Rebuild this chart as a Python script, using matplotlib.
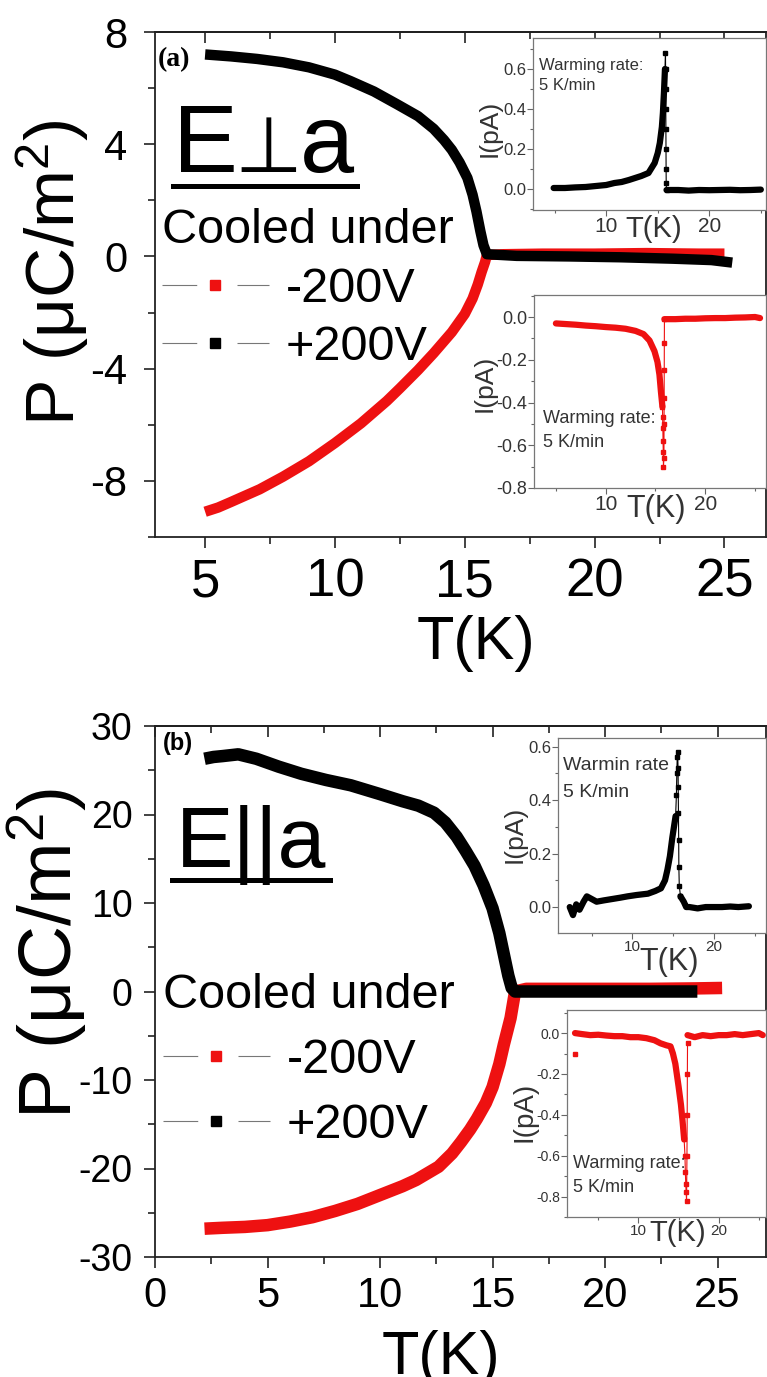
import matplotlib
matplotlib.use('Agg')
import matplotlib.pyplot as plt
from matplotlib.lines import Line2D
from matplotlib.ticker import MultipleLocator

plt.rcParams['font.family'] = ['Liberation Sans', 'DejaVu Sans']
plt.rcParams['mathtext.fontset'] = 'custom'
plt.rcParams['mathtext.rm'] = 'Liberation Sans'
plt.rcParams['mathtext.it'] = 'Liberation Sans:italic'
plt.rcParams['axes.unicode_minus'] = False
plt.rcParams['lines.scale_dashes'] = False

W, H = 767, 1377      # taille de la figure en pixels (dpi 100)
rouge = '#ee1111'
gris = '#333333'

### Données panneau (a) : E perp a  (P en uC/m2)
Ta_neg = [5.0, 5.5, 6.0, 7.1, 8.0, 9.0, 10.0, 11.0, 12.0, 12.5, 13.2, 13.8, 14.5, 15.0, 15.3, 15.5, 15.65, 15.78, 15.85, 16.5, 18, 20, 22, 24, 25.0]
Pa_neg = [-9.1, -8.95, -8.75, -8.3, -7.85, -7.3, -6.65, -5.95, -5.15, -4.7, -4.05, -3.45, -2.7, -2.05, -1.5, -1.0, -0.55, -0.2, 0.05, 0.08, 0.1, 0.1, 0.12, 0.1, 0.1]
Ta_pos = [5.0, 6.0, 7.0, 8.0, 9.0, 10.0, 10.6, 11.5, 12.4, 13.2, 13.8, 14.2, 14.5, 14.8, 15.1, 15.3, 15.45, 15.6, 15.72, 15.85, 17, 19, 21, 23, 24.5, 25.3]
Pa_pos = [7.2, 7.13, 7.04, 6.92, 6.74, 6.48, 6.25, 5.88, 5.42, 5.0, 4.55, 4.15, 3.8, 3.35, 2.8, 2.2, 1.6, 0.9, 0.4, 0.08, 0.02, 0.0, -0.03, -0.08, -0.13, -0.22]

### Données panneau (b) : E // a
Tb_pos = [2.2, 2.6, 3.0, 3.7, 4.5, 5.5, 6.5, 7.6, 8.7, 10.0, 11.0, 11.7, 12.4, 12.9, 13.4, 13.8, 14.2, 14.6, 15.0, 15.3, 15.5, 15.7, 15.85, 16.0, 18, 20, 22, 24.1]
Pb_pos = [26.3, 26.5, 26.6, 26.8, 26.3, 25.4, 24.6, 23.9, 23.3, 22.3, 21.5, 21.0, 20.2, 19.1, 17.5, 15.9, 14.2, 12.0, 9.4, 6.6, 4.2, 1.8, 0.4, 0.0, 0.0, 0.0, 0.0, 0.0]
Tb_neg = [2.2, 3.0, 4.0, 5.0, 6.0, 7.0, 8.0, 9.0, 10.0, 11.0, 11.6, 12.6, 13.2, 13.6, 14.0, 14.3, 14.7, 15.0, 15.3, 15.5, 15.7, 15.8, 15.9, 16.0, 16.5, 18, 20, 22, 24, 25.2]
Pb_neg = [-26.8, -26.7, -26.6, -26.4, -26.0, -25.5, -24.8, -24.0, -23.0, -22.0, -21.3, -19.8, -18.3, -17.0, -15.6, -14.4, -12.6, -10.8, -8.2, -6.0, -4.0, -3.0, -1.5, 0.0, 0.3, 0.3, 0.3, 0.3, 0.35, 0.4]

### Inserts (I en pA) : base continue, pic en pointillés, palier après Tc
# (a) haut, +200V
Ia1_T = [4.9, 6, 7, 8, 9, 10, 10.8, 11.5, 12.2, 12.8, 13.4, 14.1, 14.7, 15.0, 15.2, 15.4, 15.5, 15.6, 15.7]
Ia1_I = [0.005, 0.005, 0.008, 0.01, 0.015, 0.02, 0.03, 0.035, 0.045, 0.055, 0.065, 0.08, 0.13, 0.18, 0.23, 0.31, 0.38, 0.48, 0.6]
Ia1_Tpic = [15.7, 15.75, 15.76, 15.77, 15.78, 15.79, 15.8, 15.81, 15.82, 15.85]
Ia1_Ipic = [0.6, 0.68, 0.6, 0.5, 0.4, 0.3, 0.2, 0.1, 0.03, -0.005]
Ia1_Tfin = [15.85, 17, 18, 19, 20, 21, 22, 23, 24, 25]
Ia1_Ifin = [-0.005, -0.005, -0.008, -0.005, -0.006, -0.005, -0.004, -0.006, -0.005, -0.003]
# (a) bas, -200V
Ia2_T = [5.0, 6, 7, 8, 9, 10, 11, 12, 13, 13.8, 14.4, 14.9, 15.2, 15.4, 15.55, 15.7]
Ia2_I = [-0.03, -0.033, -0.036, -0.04, -0.043, -0.047, -0.05, -0.055, -0.065, -0.08, -0.11, -0.16, -0.21, -0.27, -0.35, -0.42]
Ia2_Tpic = [15.7, 15.72, 15.74, 15.76, 15.78, 15.8, 15.85, 15.86, 15.87, 15.88, 15.89, 15.9]
Ia2_Ipic = [-0.42, -0.47, -0.52, -0.58, -0.63, -0.70, -0.66, -0.5, -0.38, -0.25, -0.12, -0.01]
Ia2_Tfin = [15.9, 17, 18, 19, 20, 21, 22, 23, 24, 25, 25.5]
Ia2_Ifin = [-0.01, -0.01, -0.008, -0.008, -0.006, -0.005, -0.005, -0.003, -0.002, 0.0, -0.005]
# (b) haut, +200V
Ib1_T = [2.3, 2.7, 3.1, 3.5, 4.0, 4.4, 5.0, 5.6, 6.5, 7.5, 8.5, 9.4, 10.5, 11.9, 12.8, 13.5, 14.0, 14.3, 14.6, 14.9, 15.1, 15.3]
Ib1_I = [0.0, -0.03, 0.01, -0.01, 0.02, 0.04, 0.03, 0.02, 0.025, 0.03, 0.035, 0.04, 0.045, 0.05, 0.06, 0.07, 0.1, 0.14, 0.19, 0.26, 0.3, 0.34]
Ib1_Tpic = [15.3, 15.4, 15.45, 15.5, 15.55, 15.6, 15.62, 15.65, 15.68, 15.7, 15.75, 15.9]
Ib1_Ipic = [0.34, 0.42, 0.5, 0.56, 0.58, 0.52, 0.45, 0.35, 0.25, 0.15, 0.08, 0.04]
Ib1_Tfin = [15.9, 16.3, 16.6, 17, 18, 19, 20, 21, 22, 23, 24.3]
Ib1_Ifin = [0.04, 0.02, 0.0, 0.0, -0.005, 0.0, 0.0, 0.0, 0.002, 0.0, 0.003]
# (b) bas, -200V
Ib2_T = [2.1, 3, 4, 5, 6, 7, 8, 9, 10, 11, 12, 12.75, 13.5, 14.0, 14.3, 14.6, 15.0, 15.3, 15.5, 15.7]
Ib2_I = [0.0, -0.005, -0.01, -0.008, -0.012, -0.015, -0.015, -0.02, -0.02, -0.025, -0.035, -0.05, -0.06, -0.065, -0.1, -0.15, -0.26, -0.35, -0.43, -0.52]
Ib2_Tpic = [15.7, 15.8, 15.85, 15.9, 15.95, 16.0, 16.05, 16.08, 16.1, 16.12]
Ib2_Ipic = [-0.52, -0.6, -0.68, -0.74, -0.78, -0.82, -0.6, -0.4, -0.2, -0.05]
Ib2_Tfin = [16.12, 17, 18, 19, 20, 21, 22, 23, 24, 25, 25.5]
Ib2_Ifin = [-0.01, -0.02, -0.01, -0.015, -0.01, -0.01, -0.005, -0.01, -0.005, 0.0, -0.01]
Ib2_Taberr = [2.1]
Ib2_Iaberr = [-0.1]

legende = ['-200V', '+200V']


### Outils de placement (pixels -> fraction de figure)
def rect_px(x0, y0, x1, y1):
    return [x0/W, 1 - y1/H, (x1 - x0)/W, (y1 - y0)/H]

def pt_px(x, y):
    return x/W, 1 - y/H


fig = plt.figure(figsize=(W/100, H/100), dpi=100)


def axe_principal(rect, xlim, ylim, xmaj, ymaj, yfs, xfs, ypad, xpad):
    ax = fig.add_axes(rect)
    ax.set_xlim(*xlim)
    ax.set_ylim(*ylim)
    ax.xaxis.set_major_locator(MultipleLocator(xmaj))
    ax.xaxis.set_minor_locator(MultipleLocator(xmaj/2))
    ax.yaxis.set_major_locator(MultipleLocator(ymaj))
    ax.yaxis.set_minor_locator(MultipleLocator(ymaj/2))
    ax.tick_params(which='both', direction='out', width=1.2, color='#222222')
    ax.tick_params(which='major', length=8)
    ax.tick_params(which='minor', length=5)
    ax.tick_params(axis='y', labelsize=yfs, pad=ypad)
    ax.tick_params(axis='x', labelsize=xfs, pad=xpad)
    for s in ax.spines.values():
        s.set_linewidth(1.3)
        s.set_color('#222222')
    haut = ax.secondary_xaxis('top')
    haut.xaxis.set_major_locator(MultipleLocator(xmaj))
    haut.xaxis.set_minor_locator(MultipleLocator(xmaj/2))
    haut.tick_params(which='both', direction='in', labeltop=False, width=1.2, color='#222222')
    haut.tick_params(which='major', length=8)
    haut.tick_params(which='minor', length=5)
    haut.spines['top'].set_linewidth(1.3)
    return ax


def insert(rect, xlim, ylim, fs_y, fs_x):
    ai = fig.add_axes(rect)
    ai.set_facecolor('white')
    ai.set_xlim(*xlim)
    ai.set_ylim(*ylim)
    ai.xaxis.set_major_locator(MultipleLocator(10))
    ai.xaxis.set_minor_locator(MultipleLocator(5))
    ai.yaxis.set_major_locator(MultipleLocator(0.2))
    ai.yaxis.set_minor_locator(MultipleLocator(0.1))
    ai.yaxis.set_major_formatter(plt.FormatStrFormatter('%.1f'))
    ai.tick_params(which='both', direction='out', color='#666666', width=0.8, pad=1)
    ai.tick_params(which='major', length=4)
    ai.tick_params(which='minor', length=2.5)
    ai.tick_params(axis='y', labelsize=fs_y, labelcolor=gris)
    ai.tick_params(axis='x', labelsize=fs_x, labelcolor=gris)
    for s in ai.spines.values():
        s.set_linewidth(0.9)
        s.set_color('#777777')
    return ai


def trace_insert(ai, c, T, I, Tp, Ip, Tf, If):
    ai.plot(T, I, color=c, lw=4.5, solid_capstyle='round', solid_joinstyle='round')
    ai.plot(Tp, Ip, color=c, lw=0.8, marker='s', ms=2.8, mec=c, mfc=c, ls='-')
    ai.plot(Tf, If, color=c, lw=4.5, solid_capstyle='round', solid_joinstyle='round')


def poignees():
    # trait fin interrompu autour du carré, comme dans la légende d'origine
    return [Line2D([], [], color='#777777', lw=0.8, ls=(0, (25, 29, 26, 60)),
                   marker='s', ms=7, mfc=c, mec=c) for c in (rouge, 'black')]


### Panneau (a)
ax1 = axe_principal(rect_px(155, 32, 766, 537), (3.07, 26.6), (-10, 8), 5, 4, 30, 38, 12, 7)
ax1.plot(Ta_neg, Pa_neg, color=rouge, lw=7.5, solid_capstyle='butt', solid_joinstyle='round')
ax1.plot(Ta_pos, Pa_pos, color='black', lw=7.5, solid_capstyle='butt', solid_joinstyle='round')
ax1.set_ylabel('P (μC/m$^2$)', fontsize=50)
ax1.yaxis.set_label_coords(-0.104, 0.523)
ax1.set_xlabel('T(K)', fontsize=44)
ax1.xaxis.set_label_coords(0.525, -0.155)

ax1.legend(poignees(), legende, title='Cooled under', title_fontsize=35, fontsize=35, loc='upper left',
           bbox_to_anchor=(0.0115, 0.651), frameon=False, borderpad=0, borderaxespad=0,
           handlelength=2.2, handletextpad=0.35, labelspacing=0.28, alignment='left')

fig.text(*pt_px(158, 66), '(a)', fontsize=20, fontweight='bold', family='Liberation Serif', va='baseline')
fig.text(*pt_px(173, 172), 'E', fontsize=70, va='baseline')
fig.text(*pt_px(268, 172), '⊥', fontsize=56, va='baseline', ha='center', family='DejaVu Sans')
fig.text(*pt_px(300, 172), 'a', fontsize=70, va='baseline')
fig.add_artist(Line2D([173/W, 357/W], [1 - 185.5/H] * 2, color='black', lw=3.6))

### Panneau (b)
ax2 = axe_principal(rect_px(155, 726, 766, 1257), (0, 27.15), (-30, 30), 5, 10, 27, 30, 8, 6)
ax2.plot(Tb_neg, Pb_neg, color=rouge, lw=9, solid_capstyle='butt', solid_joinstyle='round')
ax2.plot(Tb_pos, Pb_pos, color='black', lw=9, solid_capstyle='butt', solid_joinstyle='round')
ax2.set_ylabel('P (μC/m$^2$)', fontsize=54)
ax2.yaxis.set_label_coords(-0.107, 0.572)
ax2.set_xlabel('T(K)', fontsize=44)
ax2.xaxis.set_label_coords(0.468, -0.137)

ax2.legend(poignees(), legende, title='Cooled under', title_fontsize=35, fontsize=35, loc='upper left',
           bbox_to_anchor=(0.013, 0.535), frameon=False, borderpad=0, borderaxespad=0,
           handlelength=2.2, handletextpad=0.35, labelspacing=0.41, alignment='left')

fig.text(*pt_px(163, 750), '(b)', fontsize=17, fontweight='bold', va='baseline')
fig.text(*pt_px(176, 867), 'E||a', fontsize=62, va='baseline')
fig.add_artist(Line2D([172/W, 330/W], [1 - 879.5/H] * 2, color='black', lw=3.6))

### Inserts panneau (a)
a1 = insert(rect_px(533, 38, 766, 210), (2.9, 25.5), (-0.105, 0.755), 12, 15)
trace_insert(a1, 'black', Ia1_T, Ia1_I, Ia1_Tpic, Ia1_Ipic, Ia1_Tfin, Ia1_Ifin)
a1.set_ylabel('I(pA)', fontsize=19, color=gris)
a1.yaxis.set_label_coords(-0.135, 0.477)
a1.set_xlabel('T(K)', fontsize=21, color=gris)
a1.xaxis.set_label_coords(0.519, -0.03)
fig.text(*pt_px(539, 70), 'Warming rate:', fontsize=12, color=gris, va='baseline')
fig.text(*pt_px(539, 90), '5 K/min', fontsize=12, color=gris, va='baseline')

a2 = insert(rect_px(534, 295, 766, 488), (2.8, 26.1), (-0.8, 0.103), 13, 15)
trace_insert(a2, rouge, Ia2_T, Ia2_I, Ia2_Tpic, Ia2_Ipic, Ia2_Tfin, Ia2_Ifin)
a2.set_ylabel('I(pA)', fontsize=19, color=gris)
a2.yaxis.set_label_coords(-0.16, 0.544)
a2.set_xlabel('T(K)', fontsize=22, color=gris)
a2.xaxis.set_label_coords(0.526, -0.03)
fig.text(*pt_px(543, 423), 'Warming rate:', fontsize=13, color=gris, va='baseline')
fig.text(*pt_px(543, 447), '5 K/min', fontsize=13, color=gris, va='baseline')

### Inserts panneau (b)
b1 = insert(rect_px(558, 738, 766, 933), (0.86, 26.4), (-0.097, 0.632), 12, 11)
trace_insert(b1, 'black', Ib1_T, Ib1_I, Ib1_Tpic, Ib1_Ipic, Ib1_Tfin, Ib1_Ifin)
b1.set_ylabel('I(pA)', fontsize=19, color=gris)
b1.yaxis.set_label_coords(-0.15, 0.508)
b1.set_xlabel('T(K)', fontsize=22, color=gris)
b1.xaxis.set_label_coords(0.534, -0.07)
fig.text(*pt_px(563, 770), 'Warmin rate', fontsize=14, color=gris, va='baseline')
fig.text(*pt_px(563, 797), '5 K/min', fontsize=14, color=gris, va='baseline')

b2 = insert(rect_px(567, 1010, 766, 1217), (1.1, 25.9), (-0.90, 0.113), 10, 11)
trace_insert(b2, rouge, Ib2_T, Ib2_I, Ib2_Tpic, Ib2_Ipic, Ib2_Tfin, Ib2_Ifin)
b2.plot(Ib2_Taberr, Ib2_Iaberr, 's', color=rouge, ms=3)
b2.set_ylabel('I(pA)', fontsize=20, color=gris)
b2.yaxis.set_label_coords(-0.15, 0.507)
b2.set_xlabel('T(K)', fontsize=21, color=gris)
b2.xaxis.set_label_coords(0.558, -0.01)
fig.text(*pt_px(573, 1168), 'Warming rate:', fontsize=13, color=gris, va='baseline')
fig.text(*pt_px(573, 1192), '5 K/min', fontsize=13, color=gris, va='baseline')

fig.savefig('out.png', dpi=100)
